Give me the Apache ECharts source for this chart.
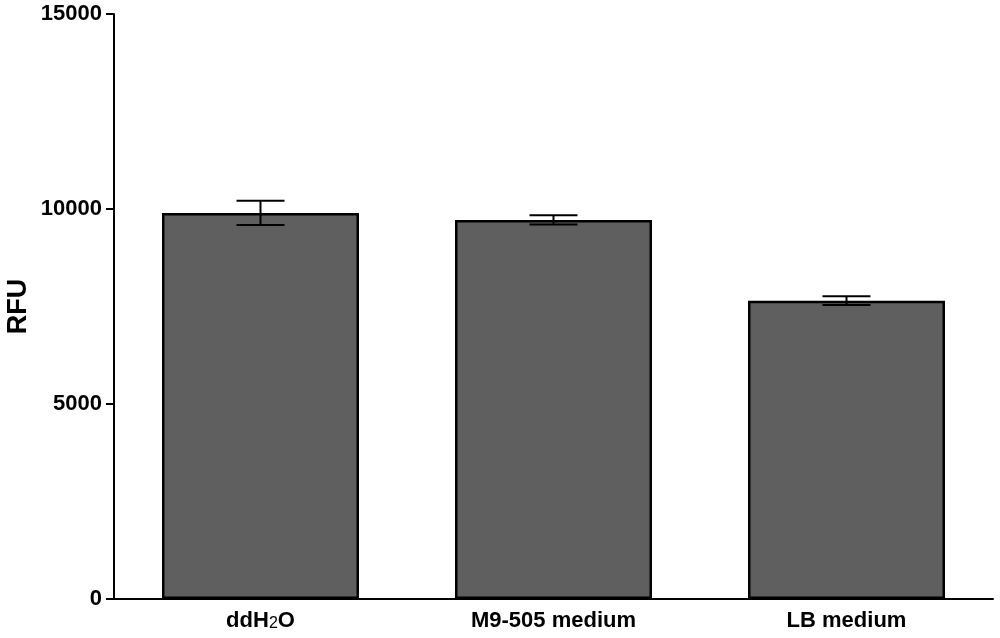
<!DOCTYPE html>
<html>
<head>
<meta charset="utf-8">
<script src="https://cdn.jsdelivr.net/npm/echarts@6/dist/echarts.min.js"></script>
<style>
  html, body { margin: 0; padding: 0; background: #fff; }
  #chart { width: 1000px; height: 638px; }
</style>
</head>
<body>
<div id="chart"></div>
<script>
// Data
var categories = ['ddH2O', 'M9-505 medium', 'LB medium'];
var meanValues = [9900, 9720, 7650];
var errValues = [310, 120, 110];
var yTicks = [0, 5000, 10000, 15000];

var chart = echarts.init(document.getElementById('chart'));

var errData = categories.map(function (c, i) {
    return [i, meanValues[i] - errValues[i], meanValues[i] + errValues[i]];
});

chart.setOption({
    animation: false,
    textStyle: { fontFamily: 'Liberation Sans, Arial, sans-serif' },
    grid: { left: 114, right: 7, top: 14, bottom: 39, outerBoundsMode: 'none', containLabel: false },
    xAxis: {
        type: 'category',
        data: categories,
        axisLine: { lineStyle: { color: '#000', width: 2 } },
        axisTick: { alignWithLabel: true, length: 7, lineStyle: { color: '#000', width: 2 } },
        axisLabel: {
            margin: 11,
            color: '#000',
            fontSize: 22,
            fontWeight: 'bold',
            formatter: function (v) {
                if (v === 'ddH2O') return '{a|ddH}{s|2}{a|O}';
                return '{a|' + v + '}';
            },
            rich: {
                a: { fontSize: 22, fontWeight: 'bold', color: '#000' },
                s: { fontSize: 16, fontWeight: 'normal', color: '#000', verticalAlign: 'bottom', padding: [5, 0, 0, 0] }
            }
        }
    },
    yAxis: {
        type: 'value',
        min: yTicks[0],
        max: yTicks[yTicks.length - 1],
        interval: 5000,
        name: 'RFU',
        nameLocation: 'middle',
        nameGap: 82,
        nameMoveOverlap: false,
        nameTextStyle: { color: '#000', fontSize: 27, fontWeight: 'bold' },
        splitLine: { show: false },
        axisLine: { show: true, lineStyle: { color: '#000', width: 2 } },
        axisTick: { show: true, length: 8, lineStyle: { color: '#000', width: 2 } },
        axisLabel: {
            color: '#000', fontSize: 22, fontWeight: 'bold', margin: 12,
            formatter: function (v) { return String(v); }
        }
    },
    series: [
        {
            type: 'bar',
            data: meanValues,
            barWidth: 197,
            itemStyle: { color: '#5f5f5f', borderColor: '#000', borderWidth: 2.5 }
        },
        {
            type: 'custom',
            data: errData,
            z: 10,
            renderItem: function (params, api) {
                var x = api.value(0);
                var lo = api.coord([x, api.value(1)]);
                var hi = api.coord([x, api.value(2)]);
                var half = 24;
                var style = { stroke: '#000', lineWidth: 2 };
                return {
                    type: 'group',
                    children: [
                        { type: 'line', shape: { x1: hi[0], y1: hi[1], x2: lo[0], y2: lo[1] }, style: style },
                        { type: 'line', shape: { x1: hi[0] - half, y1: hi[1], x2: hi[0] + half, y2: hi[1] }, style: style },
                        { type: 'line', shape: { x1: lo[0] - half, y1: lo[1], x2: lo[0] + half, y2: lo[1] }, style: style }
                    ]
                };
            }
        }
    ]
});
</script>
</body>
</html>
